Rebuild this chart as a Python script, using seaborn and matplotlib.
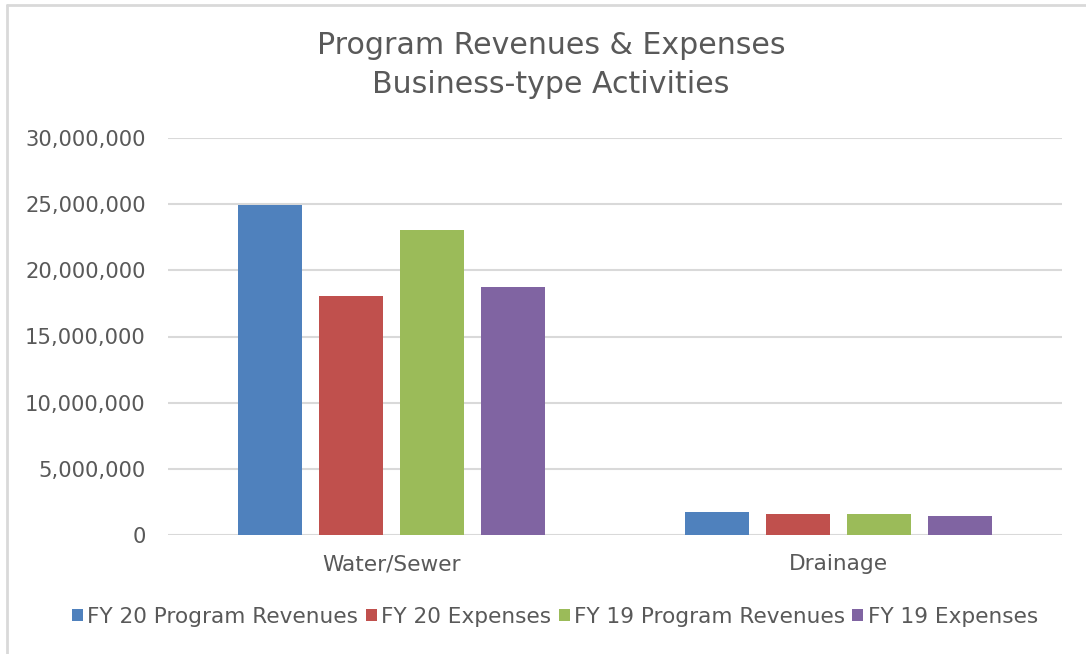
import matplotlib
matplotlib.use("Agg")
import matplotlib.pyplot as plt
import seaborn as sns
import pandas as pd
from matplotlib.lines import Line2D
from matplotlib.patches import Patch
from matplotlib.ticker import FuncFormatter

categories = ["Water/Sewer", "Drainage"]
series = ["FY 20 Program Revenues", "FY 20 Expenses", "FY 19 Program Revenues", "FY 19 Expenses"]
fy20_revenues = [24940000, 1750000]
fy20_expenses = [18060000, 1600000]
fy19_revenues = [23050000, 1600000]
fy19_expenses = [18750000, 1420000]
colors = ["#4F81BD", "#C0504D", "#9BBB59", "#8064A2"]
yticks = [0, 5000000, 10000000, 15000000, 20000000, 25000000, 30000000]

rows = []
for s, vals in zip(series, [fy20_revenues, fy20_expenses, fy19_revenues, fy19_expenses]):
    for c, v in zip(categories, vals):
        rows.append({"Category": c, "Series": s, "Value": v})
df = pd.DataFrame(rows)

sns.set_theme(style="white")
plt.rcParams["font.family"] = ["DejaVu Sans"]
text_color = "#595959"
grid_color = "#D9D9D9"

fig = plt.figure(figsize=(10.86, 6.54), dpi=100)
W, H = 1086, 654
left, right, top, bottom = 168, 1062, 138, 535
ax = fig.add_axes([left / W, 1 - bottom / H, (right - left) / W, (bottom - top) / H])

sns.barplot(data=df, x="Category", y="Value", hue="Series", hue_order=series,
            order=categories, palette=colors, width=0.725, gap=0.2, ax=ax,
            legend=False, saturation=1, linewidth=0, errorbar=None)

ax.set_ylim(0, 30000000)
ax.set_yticks(yticks)
ax.yaxis.set_major_formatter(FuncFormatter(lambda v, p: f"{int(v):,}"))
ax.set_xlim(-0.5, 1.5)
ax.grid(axis="y", color=grid_color, linewidth=1.5)
ax.set_axisbelow(True)
for sp in ax.spines.values():
    sp.set_visible(False)
ax.tick_params(axis="y", length=0, pad=16, labelsize=15.2, labelcolor=text_color)
ax.tick_params(axis="x", length=0, pad=14, labelsize=15.6, labelcolor=text_color)
ax.set_xlabel("")
ax.set_ylabel("")

fig.text(551 / W, 1 - 65 / H, "Program Revenues & Expenses\nBusiness-type Activities",
         ha="center", va="center", fontsize=21.6, color=text_color, linespacing=1.4)

handles = [Patch(facecolor=c, edgecolor="none") for c in colors]
leg = fig.legend(handles, series, loc="center", bbox_to_anchor=(555 / W, 1 - 617 / H),
                 ncol=4, frameon=False, fontsize=15.6, handlelength=0.5, handleheight=0.5,
                 handletextpad=0.2, columnspacing=0.35, borderaxespad=0)
for t in leg.get_texts():
    t.set_color(text_color)

# chart area border (top and left visible)
fig.add_artist(Line2D([6.5 / W, 1.0], [1 - 5 / H, 1 - 5 / H], transform=fig.transFigure,
                      color=grid_color, linewidth=2))
fig.add_artist(Line2D([6.5 / W, 6.5 / W], [0, 1 - 5 / H], transform=fig.transFigure,
                      color=grid_color, linewidth=2))

fig.savefig("out.png", dpi=100, facecolor="white")
